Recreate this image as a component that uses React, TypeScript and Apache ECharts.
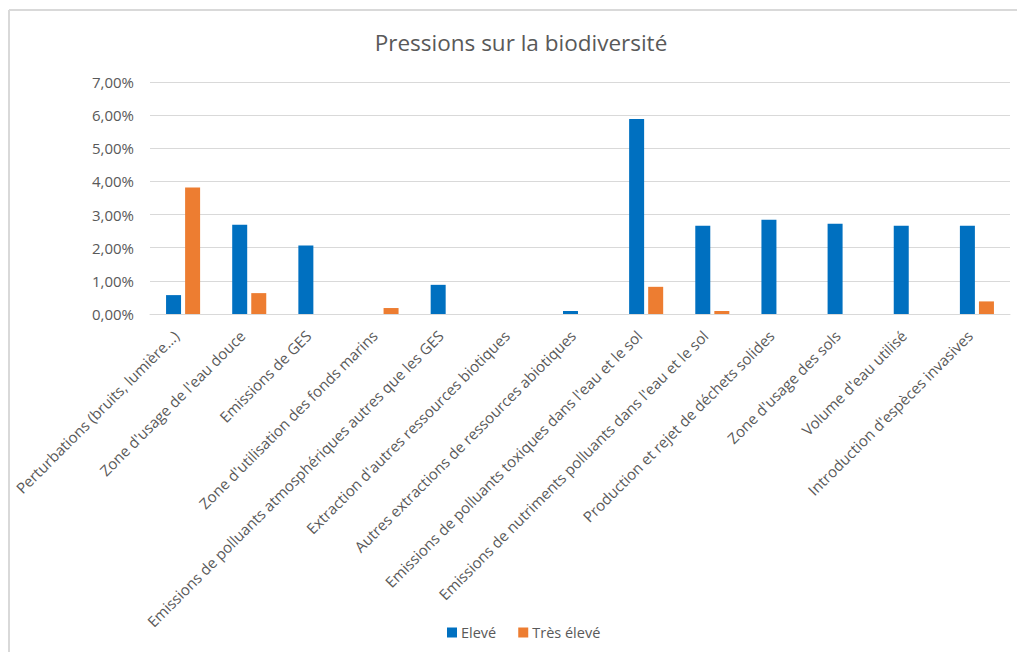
import React, { useEffect, useRef } from "react";
import * as echarts from "echarts";

const categories = [
  "Perturbations (bruits, lumière...)",
  "Zone d'usage de l'eau douce",
  "Emissions de GES",
  "Zone d'utilisation des fonds marins",
  "Emissions de polluants atmosphériques autres que les GES",
  "Extraction d'autres ressources biotiques",
  "Autres extractions de ressources abiotiques",
  "Emissions de polluants toxiques dans l'eau et le sol",
  "Emissions de nutriments polluants dans l'eau et le sol",
  "Production et rejet de déchets solides",
  "Zone d'usage des sols",
  "Volume d'eau utilisé",
  "Introduction d'espèces invasives",
];

const eleve = [0.0057, 0.0269, 0.0207, 0, 0.0088, 0, 0.0009, 0.0588, 0.0266, 0.0284, 0.0272, 0.0266, 0.0266];
const tresEleve = [0.0382, 0.0063, 0, 0.0018, 0, 0, 0, 0.0082, 0.0009, 0, 0, 0, 0.0038];

const seriesNames = ["Elevé", "Très élevé"];
const colors = ["#0070C0", "#ED7D31"];

const FONT = "'Open Sans', sans-serif";
const TEXT = "#595959";

export default function App() {
  const ref = useRef<HTMLDivElement>(null);
  useEffect(() => {
    if (!ref.current) return;
    const chart = echarts.init(ref.current, null, { renderer: "svg" });
    chart.setOption({
      animation: false,
      backgroundColor: "#ffffff",
      textStyle: { fontFamily: FONT },
      title: {
        text: "Pressions sur la biodiversité",
        left: 516,
        top: 26,
        textAlign: "center",
        textStyle: { fontFamily: FONT, fontSize: 22.5, fontWeight: "normal", color: TEXT },
      },
      graphic: [
        { type: "line", shape: { x1: 9, y1: 10, x2: 1017, y2: 10 }, style: { stroke: "#d9d9d9", lineWidth: 2 } },
        { type: "line", shape: { x1: 9, y1: 10, x2: 9, y2: 652 }, style: { stroke: "#d9d9d9", lineWidth: 2 } },
      ],
      legend: {
        data: seriesNames,
        left: 442,
        top: 620,
        itemWidth: 10,
        itemHeight: 10,
        itemGap: 22,
        icon: "rect",
        textStyle: { fontFamily: FONT, fontSize: 14.5, color: TEXT, padding: [0, 0, 0, -1] },
      },
      grid: { left: 150, right: 7, top: 82, bottom: 338, containLabel: false },
      xAxis: {
        type: "category",
        data: categories,
        axisLine: { lineStyle: { color: "#d9d9d9", width: 1 } },
        axisTick: { show: false },
        axisLabel: {
          interval: 0,
          rotate: 45,
          margin: 12,
          padding: [0, 10, 0, 0],
          fontFamily: FONT,
          fontSize: 15,
          color: TEXT,
        },
      },
      yAxis: {
        type: "value",
        min: 0,
        max: 0.07,
        interval: 0.01,
        axisLine: { show: false },
        axisTick: { show: false },
        splitLine: { lineStyle: { color: "#d9d9d9", width: 1 } },
        axisLabel: {
          margin: 16,
          fontFamily: FONT,
          fontSize: 15,
          color: TEXT,
          formatter: (v: number) => (v * 100).toFixed(2).replace(".", ",") + "%",
        },
      },
      series: [
        { name: seriesNames[0], type: "bar", data: eleve, barWidth: 15, barGap: "27%", itemStyle: { color: colors[0] } },
        { name: seriesNames[1], type: "bar", data: tresEleve, barWidth: 15, barGap: "27%", itemStyle: { color: colors[1] } },
      ],
    });
    return () => chart.dispose();
  }, []);
  return (
    <div
      ref={ref}
      style={{ position: "fixed", left: 0, top: 0, width: 1017, height: 652 }}
    />
  );
}
